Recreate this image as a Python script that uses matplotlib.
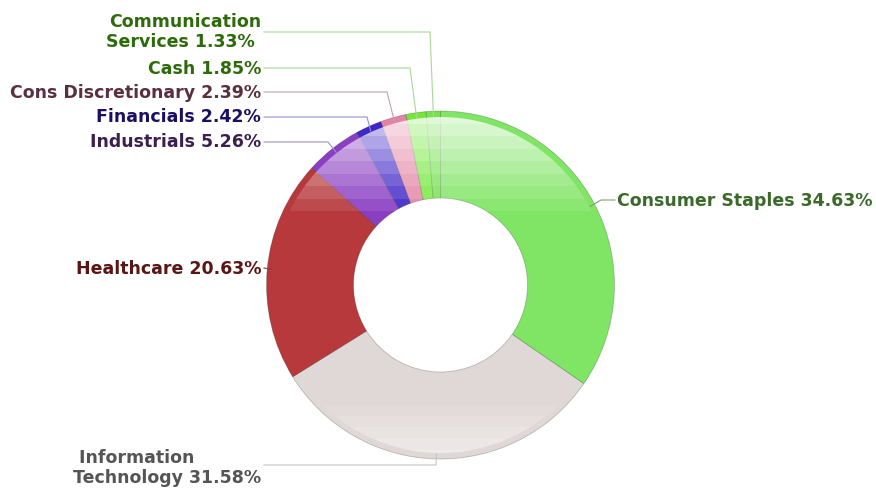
import numpy as np
import matplotlib
matplotlib.use("Agg")
import matplotlib.pyplot as plt
from matplotlib.patches import Wedge

# sector weights, clockwise from 12 o'clock
sectors = ["Consumer Staples", "Information Technology", "Healthcare", "Industrials",
           "Financials", "Cons Discretionary", "Cash", "Communication Services"]
weights = [34.63, 31.58, 20.63, 5.26, 2.42, 2.39, 1.85, 1.33]
labels = ["Consumer Staples 34.63%", " Information\nTechnology 31.58%", "Healthcare 20.63%",
          "Industrials 5.26%", "Financials 2.42%", "Cons Discretionary 2.39%",
          "Cash 1.85%", "Communication\nServices 1.33% "]

slice_colors = ["#80e464", "#e0d8d7", "#b7393c", "#8a3ec2", "#3f26c6", "#e484a4", "#72e83a", "#74e24c"]
text_colors = ["#3a6a2a", "#555555", "#5a1515", "#3a1f50", "#1a0f60", "#5a3040", "#2d6a0a", "#2d6a0a"]
line_colors = ["#80a070", "#c4c4c4", "#804040", "#a090c0", "#9090d0", "#c0a0b0", "#a8d898", "#a8d898"]

W, H = 876, 489
cx, cy = 440.5, H - 286
r_out, r_in = 174, 87

fig = plt.figure(figsize=(W / 100, H / 100), dpi=100)
ax = fig.add_axes([0, 0, 1, 1])

wedges, _ = ax.pie(weights, colors=slice_colors, startangle=90, counterclock=False,
                   center=(cx, cy), radius=r_out,
                   wedgeprops=dict(width=r_out - r_in, edgecolor=(0, 0, 0, 0.22), linewidth=0.6))
ax.set_xlim(0, W)
ax.set_ylim(0, H)
ax.set_aspect("equal")
ax.axis("off")

# glossy highlight: stepped white gradient, clipped to an inset ring
ypix = np.arange(H)
alpha = np.zeros(H)
top = (ypix >= 112) & (ypix <= 212)
alpha[top] = 0.78 * np.ceil((212 - ypix[top]) / 100 * 8) / 8
bot = (ypix >= 405) & (ypix <= 462)
alpha[bot] = 0.5 * np.ceil((ypix[bot] - 405) / 57 * 5) / 5
grad = np.ones((H, 1, 4))
grad[:, 0, 3] = alpha
img = ax.imshow(grad, extent=(0, W, 0, H), origin="upper", aspect="auto",
                interpolation="nearest", zorder=3)
ring = Wedge((cx, cy), r_out - 6, 0, 360, width=r_out - 6 - r_in, transform=ax.transData)
img.set_clip_path(ring)

# leader lines and labels (pixel positions, y from top)
elbows = [(601, 201), (436, 466), (264, 269), (328, 143), (367, 118), (387, 93), (410, 69), (430, 33)]
ends = [(615, 201), (264, 466), (264, 269), (264, 143), (264, 118), (264, 93), (264, 69), (264, 33)]
text_pos = [(617, 201), (261, 468), (261, 269), (261, 142), (261, 117), (261, 93), (261, 69), (261, 32)]
tot = sum(weights)
start = 0.0
for i, w in enumerate(weights):
    mid = np.radians((start + w / 2) / tot * 360)
    start += w
    ax_, ay_ = cx + 169 * np.sin(mid), cy + 169 * np.cos(mid)
    ex, ey = elbows[i]
    fx, fy = ends[i]
    ax.plot([ax_, ex, fx], [ay_, H - ey, H - fy], color=line_colors[i], lw=0.8, zorder=4)
    tx, ty = text_pos[i]
    ha = "left" if i == 0 else "right"
    ax.text(tx, H - ty, labels[i], ha=ha, va="center", fontsize=12.5, fontweight="bold",
            color=text_colors[i], family="DejaVu Sans", linespacing=1.2,
            multialignment="left" if i == 1 else "right", zorder=5)

fig.savefig("out.png", dpi=100)
